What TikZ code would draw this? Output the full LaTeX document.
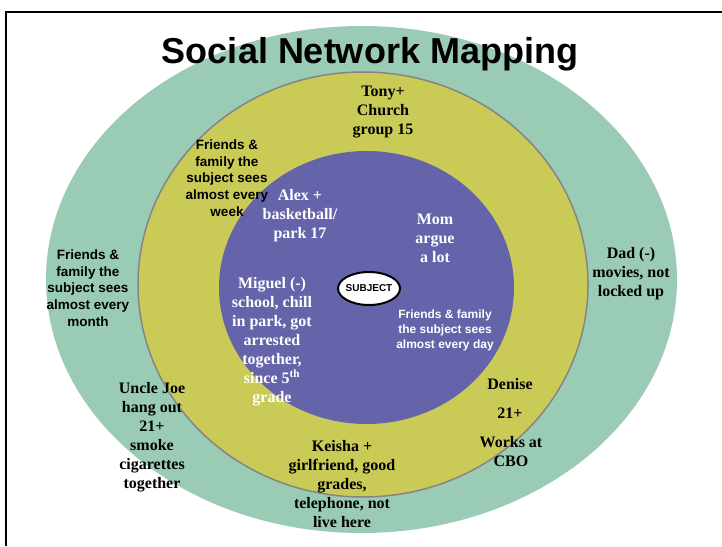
\documentclass[tikz,border=0pt]{standalone}
\usepackage{fontspec}
\setmainfont{Liberation Serif}
\setsansfont{Liberation Sans}
\usetikzlibrary{shapes.geometric}
\definecolor{ringgreen}{HTML}{99CBB5}
\definecolor{ringyellow}{HTML}{CACB57}
\definecolor{ringpurple}{HTML}{6563AA}
\definecolor{ringgray}{HTML}{858585}
\tikzset{
  ring/.style={ellipse, inner sep=0pt, outer sep=0pt},
  sertext/.style={align=center, inner sep=0pt, font=\fontsize{16}{19}\selectfont\bfseries},
  santext/.style={align=center, inner sep=0pt, font=\sffamily\fontsize{13.5}{16.8}\selectfont\bfseries},
  daytext/.style={align=center, inner sep=0pt, text=white, font=\sffamily\fontsize{12}{15}\selectfont\bfseries},
}
\begin{document}
\begin{tikzpicture}[x=1pt,y=-1pt]
\useasboundingbox (0,0) rectangle (722,546);
\fill[white] (0,0) rectangle (722,546);
% frame
\draw[line width=1.6pt] (6,546) -- (6,12) -- (722,12);
% rings
\node[ring, fill=ringgreen, minimum width=631pt, minimum height=507pt] (outer) at (361.5,279.5) {};
\node[ring, fill=ringyellow, draw=ringgray, line width=1.5pt, minimum width=450pt, minimum height=425pt] (middle) at (363,284.5) {};
\node[ring, fill=ringpurple, minimum width=295pt, minimum height=273pt] (inner) at (366.5,287.5) {};
\node[ring, fill=white, draw=black, line width=2pt, minimum width=62pt, minimum height=33pt] (subject) at (369,288.5) {};
\node[inner sep=0pt, font=\sffamily\fontsize{10}{12}\selectfont\bfseries] (subjlabel) at (369,288.5) {SUBJECT};
% title
\node[anchor=base, inner sep=0pt, font=\sffamily\fontsize{36}{40}\selectfont\bfseries] (title) at (370,63) {Social Network Mapping};
% outer ring labels
\node[santext] (month) at (88,288) {Friends \&\\family the\\subject sees\\almost every\\month};
\node[sertext] (dad) at (631,274) {Dad (-)\\movies, not\\locked up};
\node[sertext] (joe) at (152,437) {Uncle Joe\\hang out\\21+\\smoke\\cigarettes\\together};
% middle ring labels
\node[santext] (week) at (227,178) {Friends \&\\family the\\subject sees\\almost every\\week};
\node[sertext] (tony) at (383,112.5) {Tony+\\Church\\group 15};
\node[sertext] (keisha) at (342,484) {Keisha +\\girlfriend, good\\grades,\\telephone, not\\live here};
\node[sertext] (denise) at (510,384) {Denise};
\node[sertext] (denage) at (510,413) {21+};
\node[sertext] (cbo) at (511,452) {Works at\\CBO};
% inner labels
\node[sertext, text=white] (alex) at (300,216) {Alex +\\basketball/\\park 17};
\node[sertext, text=white] (mom) at (435,238) {Mom\\argue\\a lot};
\node[sertext, text=white] (miguel) at (272,342) {Miguel (-)\\school, chill\\in park, got\\arrested\\together,\\since 5\textsuperscript{th}\\grade};
\node[daytext] (day) at (445,330) {Friends \& family\\the subject sees\\almost every day};
\end{tikzpicture}
\end{document}
